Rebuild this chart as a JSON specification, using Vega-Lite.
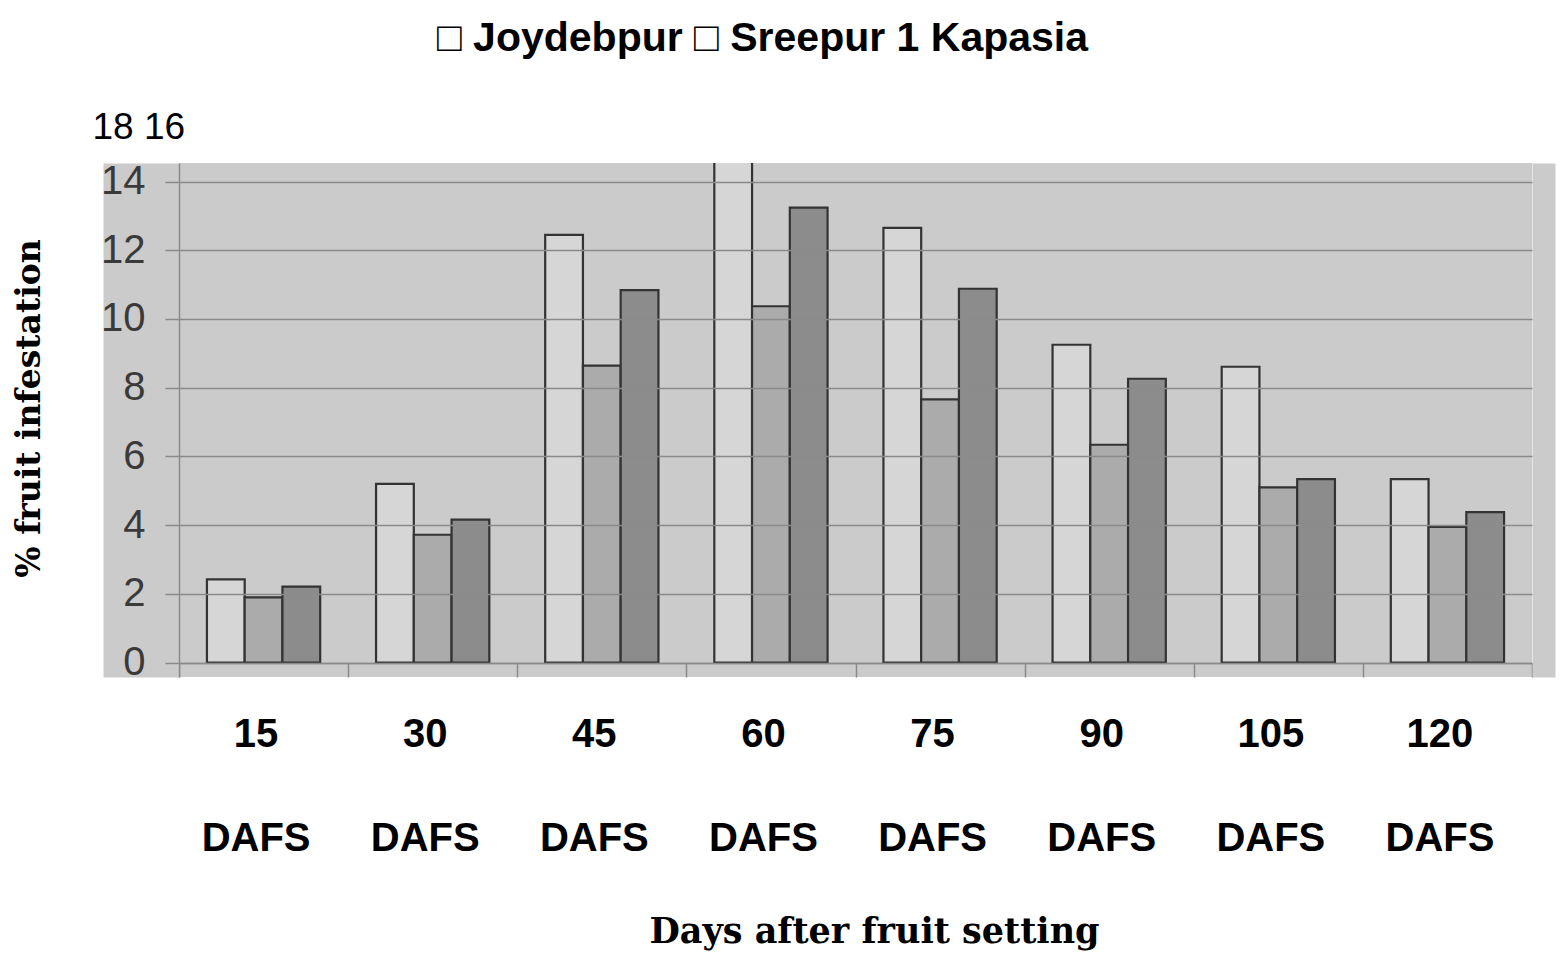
{
  "$schema": "https://vega.github.io/schema/vega-lite/v6.json",
  "width": 1353,
  "height": 514,
  "autosize": {"type": "none"},
  "padding": {"left": 179, "top": 163, "right": 35, "bottom": 285},
  "background": "white",
  "view": {"fill": "#cbcbcb", "stroke": null},
  "title": {
    "text": "□ Joydebpur □ Sreepur 1 Kapasia",
    "font": "Liberation Sans",
    "fontSize": 41,
    "fontWeight": "bold",
    "color": "black",
    "anchor": "middle",
    "frame": "group",
    "dx": -93,
    "baseline": "alphabetic",
    "offset": 16
  },
  "data": {
    "values": [
      {"day": "15", "site": "Joydebpur", "value": 2.42},
      {"day": "15", "site": "Sreepur", "value": 1.90},
      {"day": "15", "site": "Kapasia", "value": 2.21},
      {"day": "30", "site": "Joydebpur", "value": 5.20},
      {"day": "30", "site": "Sreepur", "value": 3.72},
      {"day": "30", "site": "Kapasia", "value": 4.16},
      {"day": "45", "site": "Joydebpur", "value": 12.45},
      {"day": "45", "site": "Sreepur", "value": 8.64},
      {"day": "45", "site": "Kapasia", "value": 10.84},
      {"day": "60", "site": "Joydebpur", "value": 15.6},
      {"day": "60", "site": "Sreepur", "value": 10.37},
      {"day": "60", "site": "Kapasia", "value": 13.24},
      {"day": "75", "site": "Joydebpur", "value": 12.65},
      {"day": "75", "site": "Sreepur", "value": 7.66},
      {"day": "75", "site": "Kapasia", "value": 10.88},
      {"day": "90", "site": "Joydebpur", "value": 9.25},
      {"day": "90", "site": "Sreepur", "value": 6.34},
      {"day": "90", "site": "Kapasia", "value": 8.26},
      {"day": "105", "site": "Joydebpur", "value": 8.61},
      {"day": "105", "site": "Sreepur", "value": 5.10},
      {"day": "105", "site": "Kapasia", "value": 5.34},
      {"day": "120", "site": "Joydebpur", "value": 5.34},
      {"day": "120", "site": "Sreepur", "value": 3.95},
      {"day": "120", "site": "Kapasia", "value": 4.38}
    ]
  },
  "encoding": {
    "x": {
      "field": "day",
      "type": "nominal",
      "sort": ["15", "30", "45", "60", "75", "90", "105", "120"],
      "scale": {"paddingInner": 0, "paddingOuter": 0},
      "axis": {
        "title": "Days after fruit setting",
        "titleFont": "DejaVu Serif",
        "titleFontSize": 35,
        "titleFontWeight": "bold",
        "titleColor": "black",
        "titleX": 695,
        "titleY": 279,
        "titleAlign": "center",
        "titleBaseline": "alphabetic",
        "offset": -14,
        "domainColor": "#8a8a8a",
        "domainWidth": 1.5,
        "tickBand": "extent",
        "tickSize": 14,
        "tickColor": "#8a8a8a",
        "tickWidth": 1.5,
        "labelAngle": 0,
        "labelFont": "Liberation Sans",
        "labelFontSize": 40,
        "labelFontWeight": "bold",
        "labelColor": "black",
        "labelPadding": 37,
        "labelLineHeight": 104,
        "labelExpr": "length(datum.label || '') > 0 ? [datum.label, 'DAFS'] : ''",
        "labelOffset": -8,
        "labelOverlap": false,
        "labelBound": false,
        "labelFlush": false,
        "grid": false
      }
    }
  },
  "resolve": {"scale": {"y": "independent"}, "axis": {"y": "independent"}},
  "layer": [
    {
      "mark": {"type": "bar", "opacity": 0},
      "encoding": {
        "y": {
          "field": "value",
          "type": "quantitative",
          "stack": null,
          "scale": {"domain": [-0.42, 14.54], "nice": false, "zero": false},
          "axis": {
            "orient": "left",
            "offset": 38,
            "domain": true,
            "domainColor": "#cbcbcb",
            "domainWidth": 76,
            "ticks": false,
            "labels": false,
            "grid": false,
            "title": "18 16",
            "titleAngle": 0,
            "titleX": -49,
            "titleY": -25,
            "titleAlign": "left",
            "titleBaseline": "alphabetic",
            "titleFont": "Liberation Sans",
            "titleFontSize": 37,
            "titleFontWeight": "normal",
            "titleColor": "black",
            "zindex": 0
          }
        }
      }
    },
    {
      "mark": {"type": "bar", "opacity": 0},
      "encoding": {
        "y": {
          "field": "value",
          "type": "quantitative",
          "stack": null,
          "scale": {"domain": [-0.42, 14.54], "nice": false, "zero": false},
          "axis": {
            "orient": "right",
            "offset": 11.5,
            "domain": true,
            "domainColor": "#cbcbcb",
            "domainWidth": 23,
            "ticks": false,
            "labels": false,
            "grid": false,
            "title": null,
            "zindex": 0
          }
        }
      }
    },
    {
      "mark": {"type": "bar", "stroke": "#333333", "strokeWidth": 2.2, "clip": true},
      "encoding": {
        "y": {
          "field": "value",
          "type": "quantitative",
          "stack": null,
          "scale": {"domain": [-0.42, 14.54], "nice": false, "zero": false},
          "axis": {
            "orient": "left",
            "values": [0, 2, 4, 6, 8, 10, 12, 14],
            "grid": true,
            "gridColor": "#8a8a8a",
            "gridWidth": 1.5,
            "domainColor": "#8a8a8a",
            "domainWidth": 1.5,
            "tickColor": "#8a8a8a",
            "tickSize": 14,
            "tickWidth": 1.5,
            "labelFont": "Liberation Sans",
            "labelFontSize": 40,
            "labelColor": "#3a3a3a",
            "labelPadding": 20,
            "title": "% fruit infestation",
            "titleFont": "DejaVu Serif",
            "titleFontSize": 33,
            "titleFontWeight": "bold",
            "titleColor": "black",
            "titleAngle": -90,
            "titleX": -140,
            "titleY": 245,
            "titleAlign": "center",
            "titleBaseline": "alphabetic",
            "zindex": 1
          }
        },
        "xOffset": {
          "field": "site",
          "type": "nominal",
          "sort": ["Joydebpur", "Sreepur", "Kapasia"],
          "scale": {"paddingOuter": 0.74, "paddingInner": 0}
        },
        "color": {
          "field": "site",
          "type": "nominal",
          "scale": {"domain": ["Joydebpur", "Sreepur", "Kapasia"], "range": ["#d6d6d6", "#ababab", "#8c8c8c"]},
          "legend": null
        }
      }
    }
  ]
}
